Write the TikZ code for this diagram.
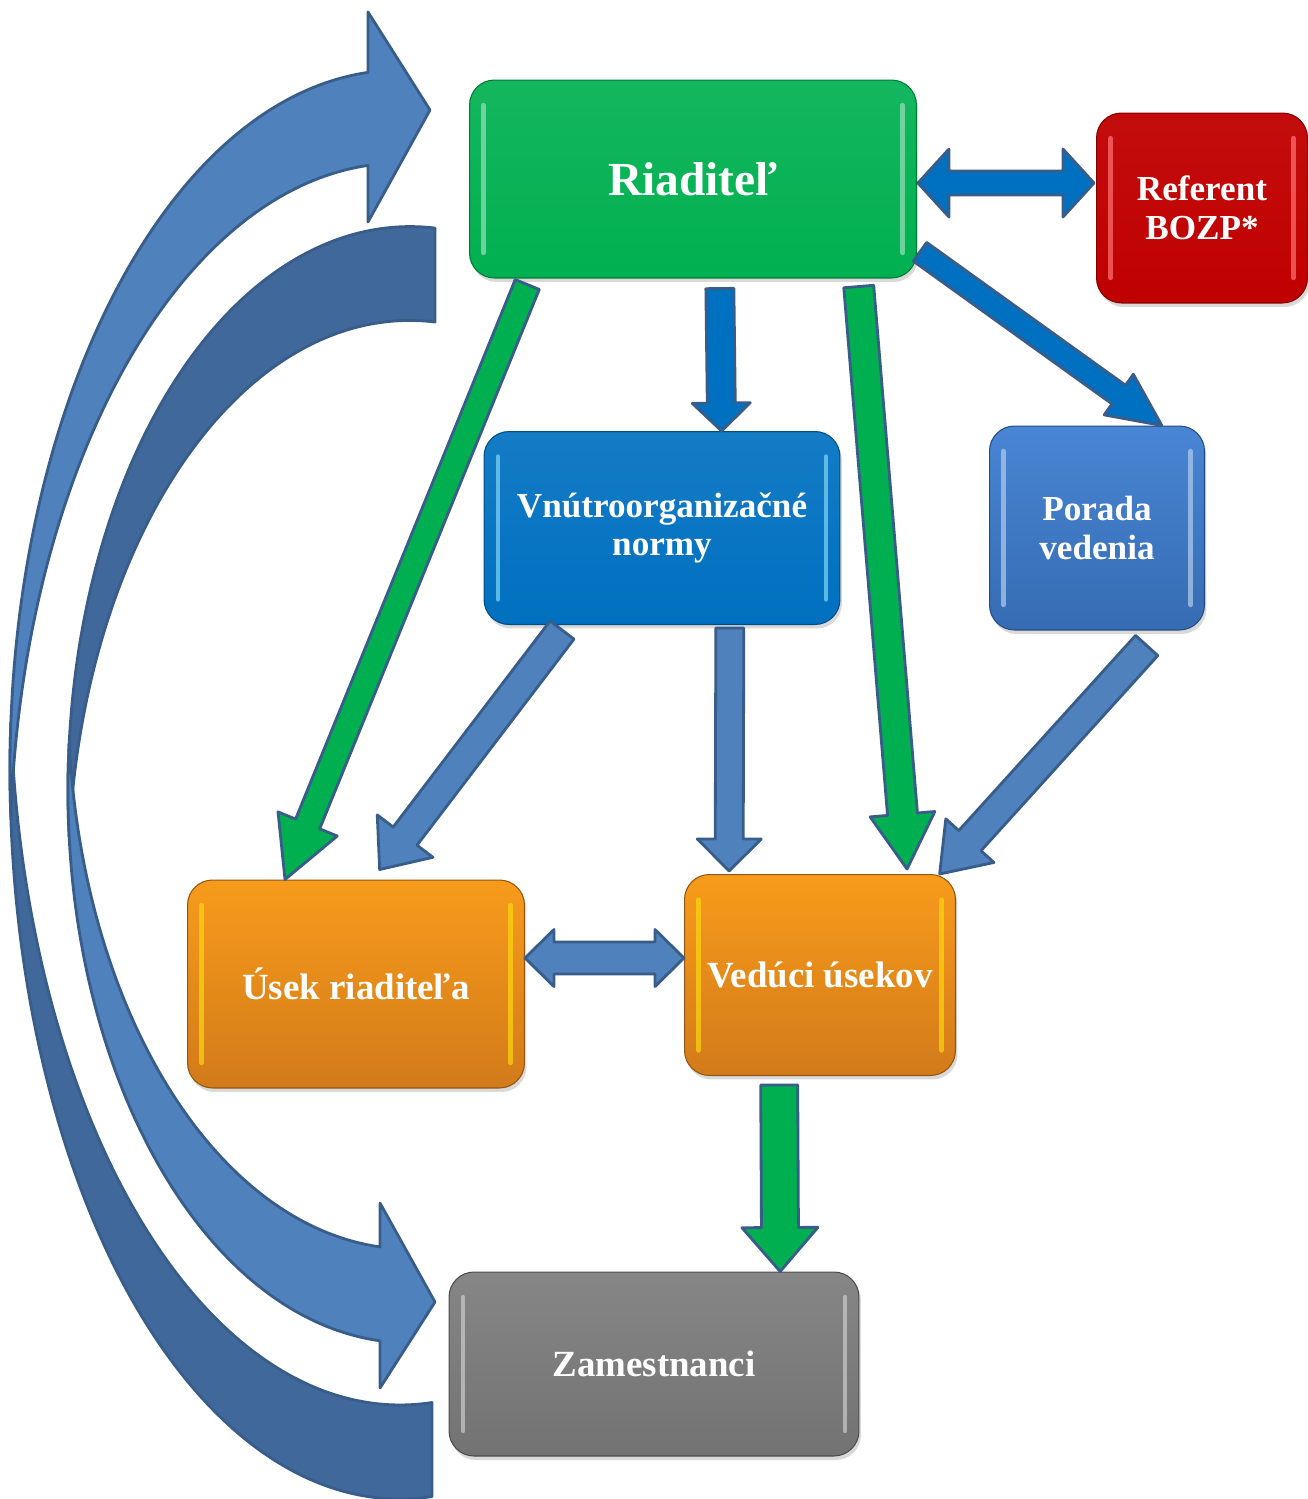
\documentclass[tikz,border=0pt]{standalone}
\usepackage{fontspec}
\setmainfont{Liberation Serif}
\usetikzlibrary{calc,shadows}

\definecolor{edgeblue}{HTML}{385D8A}
\definecolor{steel}{HTML}{4F81BD}
\definecolor{steeldark}{HTML}{41689A}
\definecolor{azure}{HTML}{0070C0}
\definecolor{leaf}{HTML}{00B050}
\definecolor{crimson}{HTML}{C00000}
\definecolor{amber}{HTML}{F7901E}
\definecolor{sky}{HTML}{3F7FD2}

% block arrow: style, from, to, half shaft, half head, head length
\newcommand{\flatarrow}[6]{%
  \path #2 coordinate (ba) #3 coordinate (bb);
  \path ($(bb)!#6!(ba)$) coordinate (bh);
  \draw[#1] ($(ba)!#4!90:(bb)$) -- ($(bh)!#4!-90:(ba)$) -- ($(bh)!#5!-90:(ba)$) -- (bb)
    -- ($(bh)!#5!90:(ba)$) -- ($(bh)!#4!90:(ba)$) -- ($(ba)!#4!-90:(bb)$) -- cycle;}
% same, with a head at both ends
\newcommand{\flatarrows}[6]{%
  \path #2 coordinate (ba) #3 coordinate (bb);
  \path ($(ba)!#6!(bb)$) coordinate (ha) ($(bb)!#6!(ba)$) coordinate (hb);
  \draw[#1] (ba) -- ($(ha)!#5!90:(bb)$) -- ($(ha)!#4!90:(bb)$) -- ($(hb)!#4!-90:(ba)$)
    -- ($(hb)!#5!-90:(ba)$) -- (bb) -- ($(hb)!#5!90:(ba)$) -- ($(hb)!#4!90:(ba)$)
    -- ($(ha)!#4!-90:(bb)$) -- ($(ha)!#5!-90:(bb)$) -- cycle;}

\tikzset{
  box/.style={rounded corners=0.5cm, inner sep=0pt, align=center, text=white,
    font=\bfseries\fontsize{20}{22}\selectfont, line width=0.6pt,
    drop shadow={shadow xshift=0.04cm, shadow yshift=-0.08cm, opacity=0.3}},
  bevel/.style={path picture={
    \draw[#1, line width=2.5pt, line cap=round, opacity=0.7]
      ([xshift=0.28cm, yshift=-0.5cm]path picture bounding box.north west)
      -- ([xshift=0.28cm, yshift=0.5cm]path picture bounding box.south west)
      ([xshift=-0.28cm, yshift=-0.5cm]path picture bounding box.north east)
      -- ([xshift=-0.28cm, yshift=0.5cm]path picture bounding box.south east);}},
  greenbox/.style={box, top color=leaf!92!white, bottom color=leaf, draw=leaf!70!black, bevel=leaf!40!white},
  redbox/.style={box, top color=crimson!95!white, bottom color=crimson, draw=crimson!70!black, bevel=red!55!white},
  bluebox/.style={box, top color=azure!92!white, bottom color=azure, draw=azure!70!black, bevel=cyan!50!white},
  skybox/.style={box, top color=sky!95!white, bottom color=sky!85!black, draw=sky!60!black, bevel=sky!40!white},
  orangebox/.style={box, top color=amber!90!yellow, bottom color=amber!85!black, draw=amber!60!black,
    bevel=yellow!70!amber, font=\bfseries\fontsize{21}{23}\selectfont},
  greybox/.style={box, top color=gray!95!white, bottom color=gray!90!black, draw=gray!60!black,
    bevel=gray!40!white, font=\bfseries\fontsize{21}{23}\selectfont},
  blk/.style={draw=edgeblue, line width=1.6pt, line join=round},
  bandlight/.style={blk, fill=steel},
  banddark/.style={blk, fill=steeldark}
}

\begin{document}
\begin{tikzpicture}[x=0.02cm, y=-0.02cm]
\useasboundingbox (0,0) rectangle (1308,1499);

% curved ribbons, back halves first
\draw[banddark] (10.81,723) arc[start angle=183.7, end angle=85.3, x radius=390, y radius=729]
  -- (432,1402.5) arc[start angle=85.3, end angle=176.3, x radius=390, y radius=729] -- cycle;
\draw[banddark] (69.2,837) arc[start angle=175.22, end angle=274.2, x radius=342, y radius=563.5]
  -- (435,322) arc[start angle=274.2, end angle=184.78, x radius=342, y radius=563.5] -- cycle;
% front halves with heads
\draw[bandlight] (10.86,816.5) arc[start angle=176.19, end angle=265.3, x radius=390, y radius=700]
  -- (368,12) -- (430,110) -- (368,222) -- (368,165.4)
  arc[start angle=265.3, end angle=183.81, x radius=390, y radius=700] -- cycle;
\draw[bandlight] (69.2,743) arc[start angle=184.87, end angle=95.03, x radius=342, y radius=553]
  -- (380,1388) -- (435,1302) -- (380,1203) -- (380,1246.9)
  arc[start angle=95.03, end angle=175.13, x radius=342, y radius=553] -- cycle;

% boxes
\node[greenbox, minimum width=8.94cm, minimum height=3.96cm, font=\bfseries\fontsize{27}{30}\selectfont] (riad) at (693,179) {Riaditeľ};
\node[redbox, minimum width=4.22cm, minimum height=3.8cm] (bozp) at (1202,208) {Referent\\BOZP*};
\node[bluebox, minimum width=7.12cm, minimum height=3.86cm] (normy) at (662,528) {Vnútroorganizačné\\normy};
\node[skybox, minimum width=4.3cm, minimum height=4.08cm] (porada) at (1097,528) {Porada\\vedenia};
\node[orangebox, minimum width=6.74cm, minimum height=4.16cm] (usek) at (356,984) {Úsek riaditeľa};
\node[orangebox, minimum width=5.42cm, minimum height=4.02cm] (veduci) at (820,975) {Vedúci úsekov};
\node[greybox, minimum width=8.2cm, minimum height=3.68cm] (zam) at (654,1364) {Zamestnanci};

% arrows
\flatarrows{blk, fill=azure}{($(riad.east)+(1,4)$)}{($(bozp.west |- riad.east)+(-2,4)$)}{0.24cm}{0.68cm}{0.62cm}
\flatarrow{blk, fill=azure}{($(riad.-18)+(3,0)$)}{($(porada.north west)!0.8!(porada.north east)$)}{0.23cm}{0.5cm}{1.06cm}
\flatarrow{blk, fill=azure}{($(riad.south west)!0.56!(riad.south east)+(0,10)$)}{($(normy.north west)!0.667!(normy.north east)$)}{0.28cm}{0.58cm}{0.56cm}
\flatarrow{blk, fill=leaf}{($(riad.south west)!0.13!(riad.south east)+(0,6)$)}{($(usek.north west)!0.29!(usek.north east)$)}{0.26cm}{0.64cm}{1.2cm}
\flatarrow{blk, fill=leaf}{($(riad.south west)!0.87!(riad.south east)+(0,8)$)}{($(veduci.north west)!0.82!(veduci.north east)+(0,-5)$)}{0.3cm}{0.65cm}{1.1cm}

\flatarrow{blk, fill=steel}{($(normy.south west)!0.22!(normy.south east)+(0,5)$)}{($(usek.north west)!0.57!(usek.north east)+(0,-10)$)}{0.3cm}{0.7cm}{0.84cm}
\flatarrow{blk, fill=steel}{($(normy.south west)!0.69!(normy.south east)+(0,3)$)}{($(veduci.north west)!0.166!(veduci.north east)+(0,-3)$)}{0.28cm}{0.64cm}{0.64cm}
\flatarrow{blk, fill=steel}{($(porada.south west)!0.73!(porada.south east)+(0,15)$)}{($(veduci.north west)!0.94!(veduci.north east)$)}{0.3cm}{0.65cm}{0.9cm}

\flatarrows{blk, fill=steel}{($(usek.east)+(0,-26)$)}{($(veduci.west)+(0,-17)$)}{0.32cm}{0.57cm}{0.58cm}
\flatarrow{blk, fill=leaf}{($(veduci.south west)!0.35!(veduci.south east)+(0,9)$)}{($(zam.north west)!0.807!(zam.north east)$)}{0.37cm}{0.76cm}{0.88cm}

\end{tikzpicture}
\end{document}
